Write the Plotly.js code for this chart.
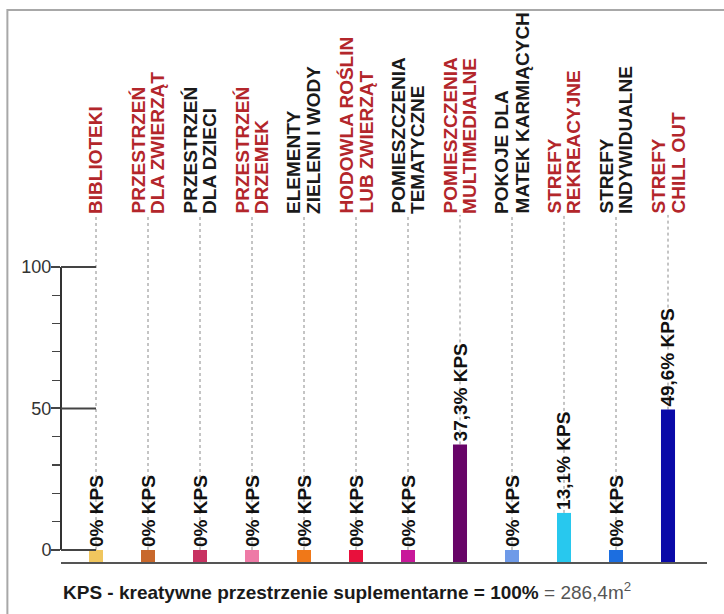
<!DOCTYPE html>
<html><head><meta charset="utf-8">
<script src="https://cdn.plot.ly/plotly-3.0.1.min.js"></script>
<style>html,body{margin:0;padding:0;background:#fff}#chart{width:724px;height:614px}</style>
</head><body><div id="chart"></div><script>
// ---- data ----
const categories = [
  'BIBLIOTEKI',
  'PRZESTRZEŃ<br>DLA ZWIERZĄT',
  'PRZESTRZEŃ<br>DLA DZIECI',
  'PRZESTRZEŃ<br>DRZEMEK',
  'ELEMENTY<br>ZIELENI I WODY',
  'HODOWLA ROŚLIN<br>LUB ZWIERZĄT',
  'POMIESZCZENIA<br>TEMATYCZNE',
  'POMIESZCZENIA<br>MULTIMEDIALNE',
  'POKOJE DLA<br>MATEK KARMIĄCYCH',
  'STREFY<br>REKREACYJNE',
  'STREFY<br>INDYWIDUALNE',
  'STREFY<br>CHILL OUT'
];
const values = [0, 0, 0, 0, 0, 0, 0, 37.3, 0, 13.1, 0, 49.6];
const valueSuffix = '% KPS';
const yTickVals = [0, 50, 100];
const yTickText = ['0', '50', '100'];
const yMinorTicks = [10, 20, 30, 40, 60, 70, 80, 90];
const footerBold = 'KPS - kreatywne przestrzenie suplementarne = 100%';
const footerRest = ' = 286,4m<sup>2</sup>';

// ---- styles ----
const barColors = ['#f0c65e', '#c8682c', '#c83262', '#ee7aa6', '#f07818', '#e8103c',
                   '#c8189a', '#680468', '#6e9ae8', '#28c8ee', '#1c6ee0', '#0a0aa8'];
const RED = '#b3262b', BLK = '#1a1a1a';
const labelColors = [RED, RED, BLK, RED, BLK, RED, BLK, RED, BLK, RED, BLK, RED];
const FONT = 'Liberation Sans, Arial, Helvetica, sans-serif';
const yRange = [-4.24, 190.8];
const xRange = [-0.673, 11.75];
const labelBase = 118.4;
const barW = 0.27;

const idx = categories.map((_, i) => i);
const fmt = v => (v === 0 ? '0' : v.toFixed(1).replace('.', ','));

const traces = [
  {type: 'bar', x: idx, y: idx.map(() => yRange[0]), width: barW,
   marker: {color: barColors, line: {width: 0}}, hoverinfo: 'skip'},
  {type: 'bar', x: idx, y: values, width: barW,
   marker: {color: barColors, line: {width: 0}}, hoverinfo: 'skip'}
];

const shapes = [];
// frame
shapes.push({type: 'rect', xref: 'paper', yref: 'paper', x0: -0.083, x1: 1.06, y0: -0.15, y1: 1,
  line: {color: '#a8a8a8', width: 2}, fillcolor: 'rgba(0,0,0,0)', layer: 'below'});
// y axis line
shapes.push({type: 'line', xref: 'paper', yref: 'y', x0: 0, x1: 0, y0: yTickVals[0], y1: yTickVals[yTickVals.length - 1],
  line: {color: '#333', width: 2}});
// major ticks extending inside
yTickVals.forEach(v => shapes.push({type: 'line', xref: 'x', yref: 'y', x0: xRange[0], x1: 0, y0: v, y1: v,
  line: {color: '#444', width: 2}}));
// dotted leader lines
idx.forEach(i => shapes.push({type: 'line', xref: 'x', yref: 'y', x0: i, x1: i, y0: values[i], y1: labelBase,
  line: {color: '#8a8a8a', width: 1, dash: 'dot'}, layer: 'below'}));

const annotations = [];
idx.forEach(i => {
  annotations.push({x: i, y: values[i], xref: 'x', yref: 'y', text: fmt(values[i]) + valueSuffix,
    textangle: -90, xanchor: 'center', yanchor: 'bottom', yshift: 2, showarrow: false, borderpad: 0,
    font: {family: FONT, size: 19, color: '#111', weight: 700}});
  const lines = categories[i].split('<br>');
  const offs = lines.length === 1 ? [0] : [-10, 10];
  lines.forEach((t, k) => annotations.push({x: i, y: labelBase, xref: 'x', yref: 'y', text: t,
    textangle: -90, xanchor: 'center', yanchor: 'bottom', xshift: offs[k], showarrow: false, borderpad: 0,
    font: {family: FONT, size: 19, color: labelColors[i], weight: 700}}));
});
annotations.push({xref: 'paper', yref: 'paper', x: 0.0015, y: -0.0525, xanchor: 'left', yanchor: 'middle',
  showarrow: false, borderpad: 0,
  text: '<b>' + footerBold + '</b><span style="color:#555">' + footerRest + '</span>',
  font: {family: FONT, size: 19, color: '#1a1a1a'}});

const layout = {
  width: 724, height: 614,
  margin: {l: 61, r: 17, t: 10, b: 52, pad: 0},
  paper_bgcolor: '#fff', plot_bgcolor: '#fff',
  showlegend: false, barmode: 'relative',
  xaxis: {type: 'linear', range: xRange, showline: true, linecolor: '#555', linewidth: 2,
    showticklabels: false, ticks: '', showgrid: false, zeroline: false, fixedrange: true},
  yaxis: {range: yRange, showgrid: false, zeroline: false, showline: false,
    tickmode: 'array', tickvals: yTickVals, ticktext: yTickText,
    ticks: 'outside', ticklen: 9, tickwidth: 2, tickcolor: '#444', ticklabelstandoff: -4,
    tickfont: {family: FONT, size: 18, color: '#333'},
    minor: {tickmode: 'array', tickvals: yMinorTicks, ticks: 'outside', ticklen: 8, tickwidth: 1.2, tickcolor: '#444', showgrid: false},
    fixedrange: true},
  shapes: shapes,
  annotations: annotations
};

Plotly.newPlot('chart', traces, layout, {displayModeBar: false, staticPlot: true});
</script></body></html>
